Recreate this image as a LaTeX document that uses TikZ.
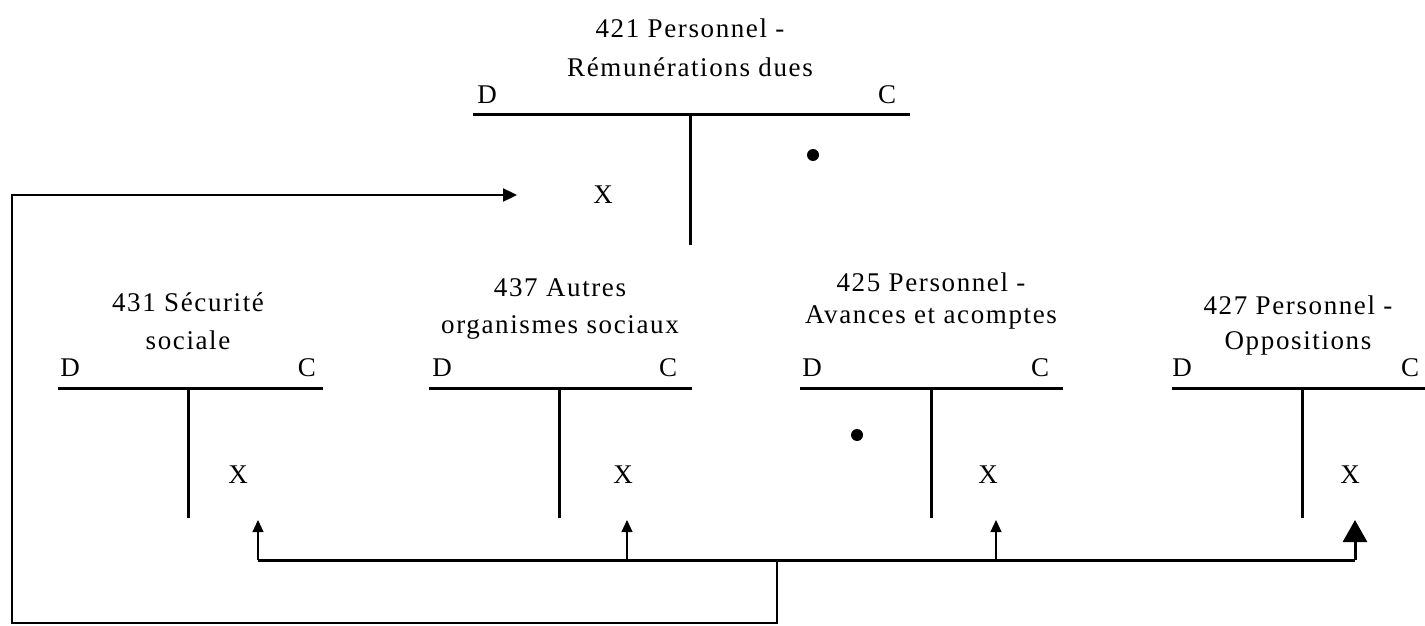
\documentclass[tikz,border=0pt]{standalone}
\usepackage{fontspec}
\setmainfont{Liberation Serif}[LetterSpace=6]
\usetikzlibrary{arrows.meta}
\tikzstyle{t-line}=[line width=1.5pt]
\tikzstyle{bus}=[line width=1.5pt]
\tikzstyle{loopline}=[line width=1.2pt, -{Triangle[length=7pt,width=6.5pt]}]
\tikzstyle{stub}=[line width=0.6pt, -{Triangle[length=6pt,width=5.5pt]}]
\tikzstyle{dot}=[circle, fill, inner sep=0pt, minimum size=6pt]

\begin{document}
\begin{tikzpicture}
        [x=0.5pt, y=-0.5pt, every node/.style={font=\fontsize{13.5}{16}\selectfont, inner sep=1pt}]
        \useasboundingbox (0,0) rectangle (1425,626);

        % 421
        \node (t421a) at (690,28) {421 Personnel -};
        \node (t421b) at (690,67) {Rémunérations dues};
        \node (d421) at (487,95) {D};
        \node (c421) at (887,95) {C};
        \draw[t-line] (473,115) -- (910,115);
        \draw[t-line] (690,115) -- (690,245);
        \node[dot] (p421) at (813,155) {};
        \node (x421) at (603,195) {X};

        % 431
        \node (t431a) at (188,302) {431 Sécurité};
        \node (t431b) at (188,340) {sociale};
        \node (d431) at (70,368) {D};
        \node (c431) at (307,368) {C};
        \draw[t-line] (58,388) -- (323,388);
        \draw[t-line] (188,388) -- (188,518);
        \node (x431) at (238,475) {X};

        % 437
        \node (t437a) at (560,288) {437 Autres};
        \node (t437b) at (560,327) {organismes sociaux};
        \node (d437) at (442,368) {D};
        \node (c437) at (668,368) {C};
        \draw[t-line] (429,388) -- (692,388);
        \draw[t-line] (559,388) -- (559,518);
        \node (x437) at (623,475) {X};

        % 425
        \node (t425a) at (931,282) {425 Personnel -};
        \node (t425b) at (931,317) {Avances et acomptes};
        \node (d425) at (812,368) {D};
        \node (c425) at (1040,368) {C};
        \draw[t-line] (800,388) -- (1063,388);
        \draw[t-line] (931,388) -- (931,518);
        \node[dot] (p425) at (857,435) {};
        \node (x425) at (988,475) {X};

        % 427
        \node (t427a) at (1298,305) {427 Personnel -};
        \node (t427b) at (1298,343) {Oppositions};
        \node (d427) at (1182,368) {D};
        \node (c427) at (1410,368) {C};
        \draw[t-line] (1172,388) -- (1425,388);
        \draw[t-line] (1302,388) -- (1302,518);
        \node (x427) at (1350,475) {X};

        % arrows
        \coordinate (j) at (777,560);
        \coordinate (k) at (12,623);
        \coordinate (e421) at (517,195);
        \coordinate (e431) at (258,520);
        \coordinate (e437) at (627,520);
        \coordinate (e425) at (996,520);
        \coordinate (e427) at (1355,520);

        \draw[loopline] (j) |- (k) |- (e421);
        \draw[bus] (e431 |- j) -- (e427 |- j);
        \draw[stub] (e431 |- j) -- (e431);
        \draw[stub] (e437 |- j) -- (e437);
        \draw[stub] (e425 |- j) -- (e425);
        \draw[line width=1.5pt, -{Triangle[length=11pt,width=12pt]}] (e427 |- j) -- (e427);
      \end{tikzpicture}
\end{document}
